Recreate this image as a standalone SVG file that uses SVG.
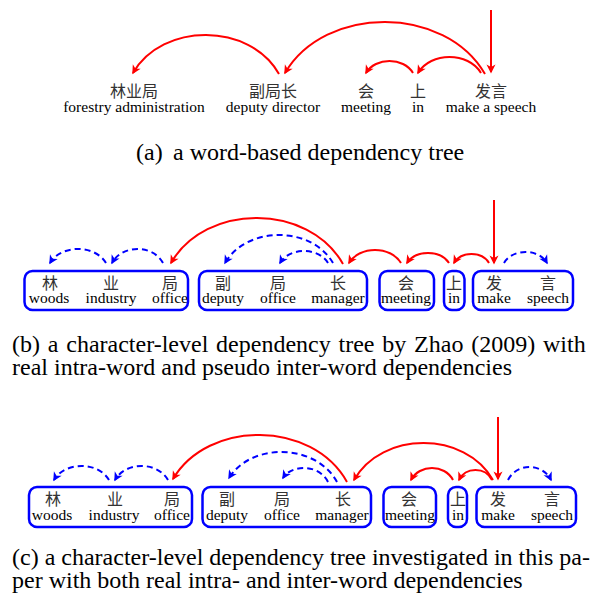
<svg xmlns="http://www.w3.org/2000/svg" width="597" height="597" viewBox="0 0 597 597">
<style>
.en{font-family:"Liberation Serif","Times New Roman",serif;font-size:15.5px;fill:#000;text-anchor:middle}
.zh{font-family:"Noto Sans CJK SC","Noto Sans CJK JP",sans-serif;font-size:16px;fill:#333;text-anchor:middle}
.cap{font-family:"Liberation Serif","Times New Roman",serif;font-size:24px;fill:#000}
.box{fill:none;stroke:#0000ff;stroke-width:2.5}
.red{fill:none;stroke:#ff0000;stroke-width:2;marker-end:url(#ar)}
.blue{fill:none;stroke:#0000ff;stroke-width:2;stroke-dasharray:6,4;marker-end:url(#ab)}
</style>
<defs>
<marker id="ar" viewBox="-9 -5 12 10" refX="0" refY="0" markerWidth="12" markerHeight="10" orient="auto" markerUnits="userSpaceOnUse">
<path d="M1.5,0 L-7.5,-4.5 L-5,0 L-7.5,4.5 Z" fill="#ff0000"/>
</marker>
<marker id="ab" viewBox="-9 -5 12 10" refX="0" refY="0" markerWidth="12" markerHeight="10" orient="auto" markerUnits="userSpaceOnUse">
<path d="M1.5,0 L-7.5,-4.5 L-5,0 L-7.5,4.5 Z" fill="#0000ff"/>
</marker>
</defs>

<!-- (a) -->
<g id="a-linyeju"><text class="zh" x="134" y="96.5">林业局</text><text class="en" x="134" y="112">forestry administration</text></g>
<g id="a-fujuzhang"><text class="zh" x="273" y="96.5">副局长</text><text class="en" x="273" y="112">deputy director</text></g>
<g id="a-hui"><text class="zh" x="366" y="96.5">会</text><text class="en" x="366" y="112">meeting</text></g>
<g id="a-shang"><text class="zh" x="418" y="96.5">上</text><text class="en" x="418" y="112">in</text></g>
<g id="a-fayan"><text class="zh" x="491" y="96.5">发言</text><text class="en" x="491" y="112">make a speech</text></g>
<g id="a-connectors">
<path class="red" d="M491,10 L491,72"/>
<path class="red" d="M279,74 C249.8,22.2 162.2,22.2 133,73"/>
<path class="red" d="M485,74 C445,4.8 325,4.8 285,73"/>
<path class="red" d="M413,73 C403.6,57 375.4,57 366,73"/>
<path class="red" d="M481,73 C468.4,51.7 430.6,51.7 418,73"/>
</g>
<text class="cap" x="136" y="160">(a)</text>
<text class="cap" x="173" y="160">a word-based dependency tree</text>

<!-- (b) -->
<g id="b-linyeju"><rect class="box" x="24.5" y="271" width="163.5" height="39" rx="8"/>
<text class="zh" x="50" y="288.5">林</text><text class="en" x="49" y="303">woods</text>
<text class="zh" x="111" y="288.5">业</text><text class="en" x="111" y="303">industry</text>
<text class="zh" x="170" y="288.5">局</text><text class="en" x="170" y="303">office</text></g>
<g id="b-fujuzhang"><rect class="box" x="199" y="271" width="168" height="39" rx="8"/>
<text class="zh" x="223" y="288.5">副</text><text class="en" x="223" y="303">deputy</text>
<text class="zh" x="278" y="288.5">局</text><text class="en" x="278" y="303">office</text>
<text class="zh" x="338" y="288.5">长</text><text class="en" x="338" y="303">manager</text></g>
<g id="b-hui"><rect class="box" x="379.5" y="271" width="54.5" height="39" rx="8"/>
<text class="zh" x="406" y="288.5">会</text><text class="en" x="406" y="303">meeting</text></g>
<g id="b-shang"><rect class="box" x="444" y="271" width="20.5" height="39" rx="8"/>
<text class="zh" x="454" y="288.5">上</text><text class="en" x="454" y="303">in</text></g>
<g id="b-fayan"><rect class="box" x="473" y="271" width="100" height="39" rx="8"/>
<text class="zh" x="494" y="288.5">发</text><text class="en" x="494" y="303">make</text>
<text class="zh" x="548" y="288.5">言</text><text class="en" x="548" y="303">speech</text></g>
<g id="b-connectors">
<path class="blue" d="M106,263 C94.8,244.3 61.2,244.3 50,263"/>
<path class="blue" d="M163,263 C152.8,244.3 122.2,244.3 112,263"/>
<path class="red" d="M343,264 C308.6,202.8 205.4,202.8 171,263"/>
<path class="blue" d="M333,263 C311.4,225.7 246.6,225.7 225,263"/>
<path class="blue" d="M328,263 C318.4,247 289.6,247 280,263"/>
<path class="red" d="M401,263 C390.6,245.7 359.4,245.7 349,263"/>
<path class="red" d="M449,263 C440.6,249.7 415.4,249.7 407,263"/>
<path class="red" d="M489,263 C482,251 461,251 454,263"/>
<path class="red" d="M494,200 L494,263"/>
<path class="blue" d="M504,263 C512.6,248.3 538.4,248.3 547,263"/>
</g>
<text class="cap" x="12" y="352" word-spacing="1.8">(b) a character-level dependency tree by Zhao (2009) with</text>
<text class="cap" x="12" y="375">real intra-word and pseudo inter-word dependencies</text>

<!-- (c) -->
<g id="c-linyeju"><rect class="box" x="29" y="487" width="163" height="40" rx="8"/>
<text class="zh" x="53" y="505">林</text><text class="en" x="52" y="520">woods</text>
<text class="zh" x="115" y="505">业</text><text class="en" x="114" y="520">industry</text>
<text class="zh" x="172" y="505">局</text><text class="en" x="172" y="520">office</text></g>
<g id="c-fujuzhang"><rect class="box" x="202.5" y="487" width="168.5" height="40" rx="8"/>
<text class="zh" x="227" y="505">副</text><text class="en" x="227" y="520">deputy</text>
<text class="zh" x="282" y="505">局</text><text class="en" x="282" y="520">office</text>
<text class="zh" x="343" y="505">长</text><text class="en" x="342" y="520">manager</text></g>
<g id="c-hui"><rect class="box" x="383.5" y="487" width="52.5" height="40" rx="8"/>
<text class="zh" x="409" y="505">会</text><text class="en" x="410" y="520">meeting</text></g>
<g id="c-shang"><rect class="box" x="448" y="487" width="19" height="40" rx="8"/>
<text class="zh" x="458" y="505">上</text><text class="en" x="458" y="520">in</text></g>
<g id="c-fayan"><rect class="box" x="476.5" y="487" width="99.5" height="40" rx="8"/>
<text class="zh" x="498" y="505">发</text><text class="en" x="498" y="520">make</text>
<text class="zh" x="552" y="505">言</text><text class="en" x="552" y="520">speech</text></g>
<g id="c-connectors">
<path class="blue" d="M109,480 C98,461.3 65,461.3 54,480"/>
<path class="blue" d="M168,480 C157.4,461.3 125.6,461.3 115,480"/>
<path class="red" d="M347,482 C312.2,419.8 207.8,419.8 173,479"/>
<path class="blue" d="M337,482 C315.4,442.7 250.6,442.7 229,478"/>
<path class="blue" d="M328,482 C319,464 292,464 283,478"/>
<path class="red" d="M493,480 C465.2,430.7 381.8,430.7 354,480"/>
<path class="red" d="M453,480 C444.6,464 419.4,464 411,480"/>
<path class="red" d="M492,480 C485.4,466.7 465.6,466.7 459,480"/>
<path class="red" d="M498,417 L498,479"/>
<path class="blue" d="M508,480 C516.6,462.7 542.4,462.7 551,480"/>
</g>
<text class="cap" x="12" y="565">(c) a character-level dependency tree investigated in this pa-</text>
<text class="cap" x="12" y="588">per with both real intra- and inter-word dependencies</text>
</svg>
